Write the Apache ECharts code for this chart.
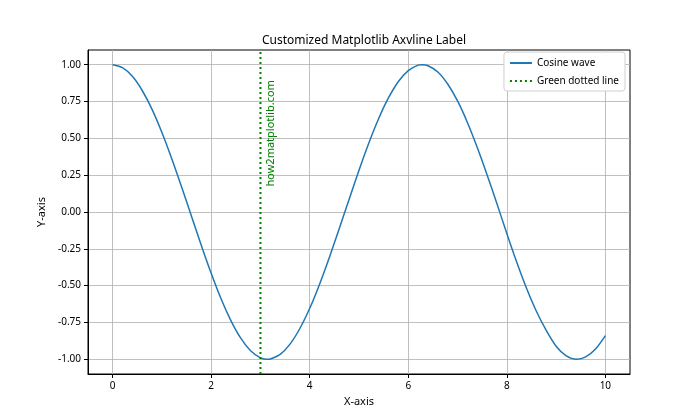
<!DOCTYPE html>
<html><head><meta charset="utf-8">
<script src="https://cdn.jsdelivr.net/npm/echarts@6/dist/echarts.min.js"></script>
<style>html,body{margin:0;padding:0;background:#fff}#c{width:700px;height:420px}</style>
</head><body><div id="c"></div>
<script>
const xValues = [0,0.2,0.4,0.6,0.8,1,1.2,1.4,1.6,1.8,2,2.2,2.4,2.6,2.8,3,3.14,3.2,3.4,3.6,3.8,4,4.2,4.4,4.6,4.8,5,5.2,5.4,5.6,5.8,6,6.2,6.28,6.4,6.6,6.8,7,7.2,7.4,7.6,7.8,8,8.2,8.4,8.6,8.8,9,9.2,9.42,9.6,9.8,10];
const cosineValues = [1.000,0.980,0.921,0.825,0.697,0.540,0.362,0.170,-0.029,-0.227,-0.416,-0.589,-0.737,-0.857,-0.942,-0.990,-1.000,-0.998,-0.967,-0.897,-0.791,-0.654,-0.490,-0.307,-0.112,0.087,0.284,0.469,0.635,0.776,0.886,0.960,0.997,1.000,0.993,0.951,0.869,0.754,0.608,0.438,0.252,0.056,-0.146,-0.340,-0.518,-0.674,-0.804,-0.911,-0.975,-1.000,-0.984,-0.930,-0.839];
const vlineX = 3;
const textX = 3.1, textY = 0.2;
const textLabel = 'how2matplotlib.com';
const xTicks = [0,2,4,6,8,10];
const yTicks = [-1.00,-0.75,-0.50,-0.25,0.00,0.25,0.50,0.75,1.00];

const font = 'Noto Sans';
const chart = echarts.init(document.getElementById('c'));
chart.setOption({
  animation: false,
  title: { text: 'Customized Matplotlib Axvline Label', left: 359, top: 30, textAlign: 'center',
    textStyle: { fontFamily: font, fontSize: 12, fontWeight: 'normal', color: '#000' } },
  grid: { left: 88, right: 70, top: 50, bottom: 46, show: true, borderColor: '#000', borderWidth: 1, backgroundColor: 'transparent' },
  legend: {
    orient: 'vertical', right: 75, top: 52, itemWidth: 22, itemHeight: 10, itemGap: 8,
    backgroundColor: '#fff', borderColor: '#d0d0d0', borderWidth: 1, borderRadius: 3, padding: [6, 6, 5, 5],
    textStyle: { fontFamily: font, fontSize: 10, color: '#000' },
    itemStyle: { opacity: 0 },
    data: ['Cosine wave', 'Green dotted line']
  },
  xAxis: {
    type: 'value', min: -0.5, max: 10.5,
    name: 'X-axis', nameLocation: 'middle', nameGap: 22,
    nameTextStyle: { fontFamily: font, fontSize: 11, color: '#000' },
    axisLine: { show: true, onZero: false, lineStyle: { color: '#000' } },
    axisTick: { show: true, length: 4, lineStyle: { color: '#000' }, customValues: xTicks },
    axisLabel: { fontFamily: font, fontSize: 10, color: '#000', margin: 7, customValues: xTicks, formatter: v => String(v) },
    splitLine: { show: true, lineStyle: { color: '#b0b0b0', width: 0.8 } }
  },
  yAxis: {
    type: 'value', min: -1.1, max: 1.1,
    name: 'Y-axis', nameLocation: 'middle', nameGap: 38,
    nameTextStyle: { fontFamily: font, fontSize: 11, color: '#000' },
    axisLine: { show: true, onZero: false, lineStyle: { color: '#000' } },
    axisTick: { show: true, length: 4, lineStyle: { color: '#000' }, customValues: yTicks },
    axisLabel: { fontFamily: font, fontSize: 10, color: '#000', margin: 7, customValues: yTicks, formatter: v => v.toFixed(2) },
    splitLine: { show: true, lineStyle: { color: '#b0b0b0', width: 0.8 } }
  },
  series: [
    { name: 'Cosine wave', type: 'line', smooth: 0.3, showSymbol: false, symbol: 'none',
      data: xValues.map((x, i) => [x, cosineValues[i]]),
      lineStyle: { color: '#1f77b4', width: 1.5 }, itemStyle: { color: '#1f77b4' } },
    { name: 'Green dotted line', type: 'line', symbol: 'none', showSymbol: false,
      data: [[vlineX, -1.1], [vlineX, 1.1]],
      lineStyle: { color: '#008000', width: 2, type: [2, 3] }, itemStyle: { color: '#008000' } }
  ]
});
const p = chart.convertToPixel({ gridIndex: 0 }, [textX, textY]);
chart.setOption({
  graphic: [{ type: 'text', x: p[0], y: p[1] + 4, rotation: Math.PI / 2,
    style: { text: textLabel, fill: '#008000', fontFamily: font, fontSize: 11, align: 'left', verticalAlign: 'top' } }]
});
</script></body></html>
